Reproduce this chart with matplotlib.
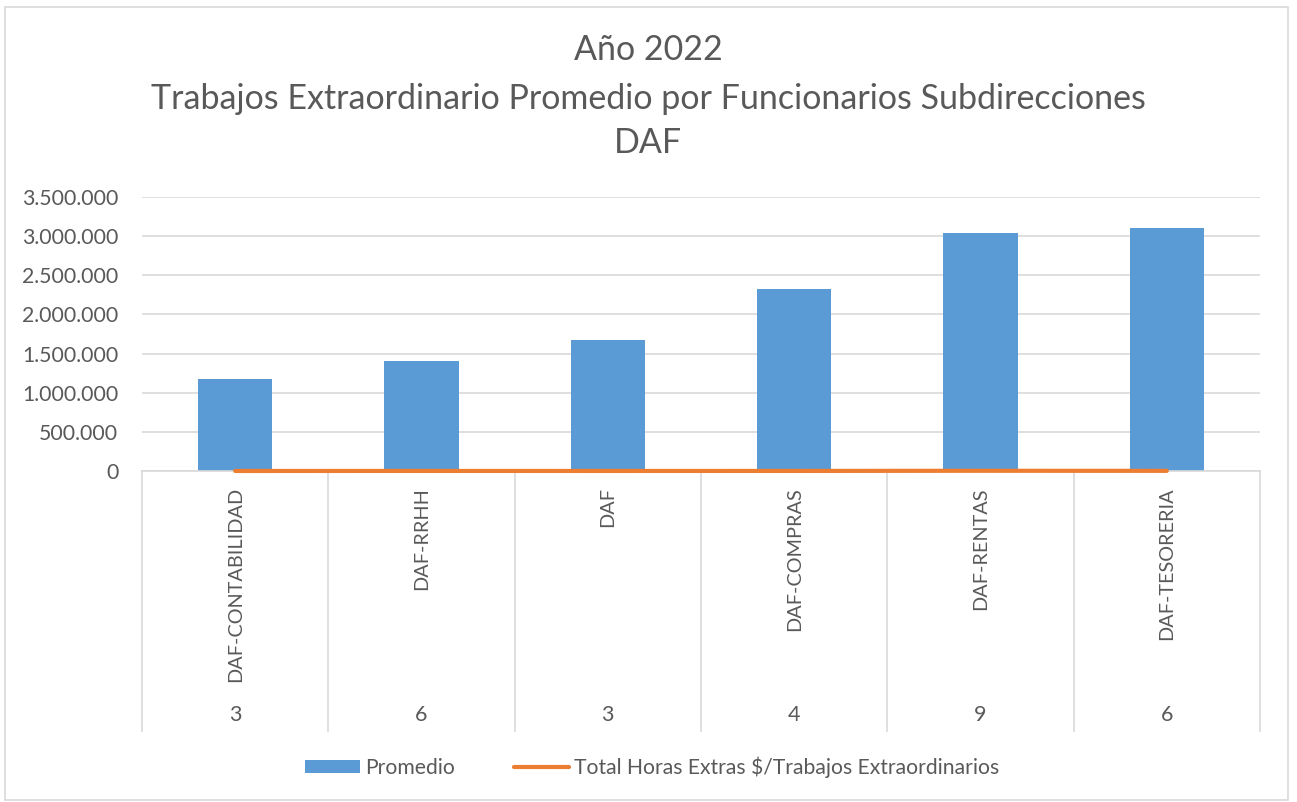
import matplotlib.pyplot as plt
from matplotlib.patches import Rectangle
from matplotlib.lines import Line2D
from matplotlib.ticker import FuncFormatter

plt.rcParams['font.family'] = ['Lato', 'DejaVu Sans']

categorias = ["DAF-CONTABILIDAD", "DAF-RRHH", "DAF", "DAF-COMPRAS", "DAF-RENTAS", "DAF-TESORERIA"]
funcionarios = ["3", "6", "3", "4", "9", "6"]
promedio = [1170000, 1405000, 1672000, 2322000, 3040000, 3100000]
total_horas = [350, 840, 500, 930, 2740, 1860]

AZUL = "#5b9bd5"
NARANJA = "#ed7d31"
GRIS_TXT = "#595959"
GRIS_LIN = "#d9d9d9"

W, H = 1297, 802
fig = plt.figure(figsize=(W / 100, H / 100), dpi=100)

# marco del grafico
fig.patches.append(Rectangle((5 / W, 2 / H), 1283 / W, 793 / H, transform=fig.transFigure,
                             fill=False, edgecolor=GRIS_LIN, linewidth=1.2))

ax_l, ax_r, ax_t, ax_b = 142, 1260, 197, 471
ax = fig.add_axes([ax_l / W, 1 - ax_b / H, (ax_r - ax_l) / W, (ax_b - ax_t) / H])

x = list(range(len(categorias)))
barras = ax.bar(x, promedio, width=0.4, color=AZUL, zorder=2, label="Promedio")
linea, = ax.plot(x, total_horas, color=NARANJA, linewidth=3, solid_capstyle="round", zorder=3,
                 label="Total Horas Extras $/Trabajos Extraordinarios", clip_on=False)

ax.set_xlim(-0.5, len(categorias) - 0.5)
ax.set_ylim(0, 3500000)
ax.set_yticks(range(0, 3500001, 500000))
ax.yaxis.set_major_formatter(FuncFormatter(lambda v, p: f"{int(v):,}".replace(",", ".")))
ax.grid(axis="y", color=GRIS_LIN, linewidth=1.2, zorder=0)
ax.tick_params(axis="y", length=0, labelsize=15.3, labelcolor=GRIS_TXT, pad=17)
ax.set_xticks([])
for s in ["top", "right", "left"]:
    ax.spines[s].set_visible(False)
ax.spines["bottom"].set_color(GRIS_LIN)
ax.spines["bottom"].set_linewidth(1.2)

# eje de categorias con dos niveles
y_fondo = (ax_b - 731) / (ax_b - ax_t)
for i in range(len(categorias) + 1):
    ax.add_line(Line2D([i - 0.5, i - 0.5], [0, y_fondo], transform=ax.get_xaxis_transform(),
                       color=GRIS_LIN, linewidth=1.2, clip_on=False))
for i, (c, n) in enumerate(zip(categorias, funcionarios)):
    ax.text(i, (ax_b - 487) / (ax_b - ax_t), c, transform=ax.get_xaxis_transform(),
            rotation=90, ha="center", va="top", fontsize=14.3, color=GRIS_TXT)
    ax.text(i, (ax_b - 715) / (ax_b - ax_t), n, transform=ax.get_xaxis_transform(),
            ha="center", va="center", fontsize=15.5, color=GRIS_TXT)

# titulo
for txt, yy in [("Año 2022", 50), ("Trabajos Extraordinario Promedio por Funcionarios Subdirecciones", 99), ("DAF", 143)]:
    fig.text(648 / W, 1 - yy / H, txt, ha="center", va="center", fontsize=24.5, color=GRIS_TXT)

fig.legend(handles=[barras, linea], loc="center", bbox_to_anchor=(652 / W, 1 - 767 / H), ncol=2,
           frameon=False, fontsize=15.2, labelcolor=GRIS_TXT, handlelength=2.6, handleheight=0.6,
           columnspacing=2.8, handletextpad=0.25)

fig.savefig("out.png", dpi=100)
